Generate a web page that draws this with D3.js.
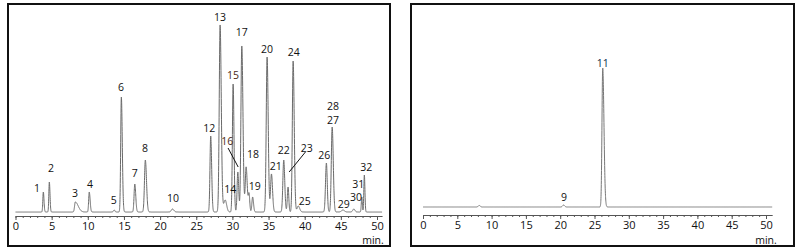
<!DOCTYPE html>
<html>
<head>
<meta charset="utf-8">
<script src="https://cdn.jsdelivr.net/npm/d3@7"></script>
<style>
  body { margin: 0; background: #fff; }
  text { font-family: "Open Sans", "Noto Sans", sans-serif; }
</style>
</head>
<body>
<div id="chart"></div>
<script>
// chromatogram peaks, left panel (retention time in min, height, left/right width)
var leftPeakTimes   = [3.85, 4.68, 8.27, 10.2, 13.65, 14.64, 16.5, 17.96, 21.7, 27.0, 28.3, 29.0, 30.1, 30.75, 31.3, 31.9, 32.3, 32.8, 34.8, 35.4, 37.1, 37.7, 38.4, 39.1, 43.0, 43.8, 45.3, 46.8, 47.9, 48.25];
var leftPeakHeights = [20, 30, 10, 20, 2, 115, 28, 52, 3, 76, 187, 12, 128, 40, 166, 45, 18, 15, 155, 38, 52, 25, 151, 6, 49, 85, 2, 3, 15, 37];
var leftPeakWidthL  = [.07, .07, .10, .08, .10, .09, .10, .12, .15, .10, .12, .20, .10, .10, .12, .12, .10, .10, .12, .12, .12, .10, .11, .15, .12, .12, .20, .15, .07, .07];
var leftPeakWidthR  = [.09, .09, .40, .12, .10, .13, .13, .16, .20, .13, .16, .20, .12, .12, .16, .15, .10, .12, .15, .15, .14, .10, .15, .20, .12, .15, .20, .15, .07, .08];

// right panel peaks
var rightPeakTimes   = [8.2, 20.5, 26.2];
var rightPeakHeights = [1.5, 2, 139];
var rightPeakWidthL  = [.15, .15, .11];
var rightPeakWidthR  = [.15, .15, .18];

// peak labels (time, height where the label sits)
var leftLabels  = ["1", "2", "3", "4", "5", "6", "7", "8", "10", "12", "13", "14", "15", "16", "17", "18", "19", "20", "21", "22", "23", "24", "25", "26", "27", "28", "29", "30", "31", "32"];
var leftLabelT  = [2.97, 4.91, 8.23, 10.3, 13.6, 14.6, 16.5, 17.9, 21.8, 26.8, 28.3, 29.7, 30.1, 29.3, 31.3, 32.85, 33.1, 34.8, 36.0, 37.1, 40.3, 38.5, 40.0, 42.7, 43.9, 43.9, 45.4, 47.1, 47.4, 48.5];
var leftLabelH  = [24, 44, 19, 28, 12, 125, 39, 64, 14, 84, 195, 23, 137, 71, 180, 58, 26, 163, 46, 62, 64, 160, 11, 57, 92, 106, 8, 15, 28, 45];
var rightLabels = ["9", "11"];
var rightLabelT = [20.55, 26.2];
var rightLabelH = [10, 144];

// leader lines for labels 16 and 23: [t1, h1, t2, h2]
var leaders = [[29.4, 64, 30.8, 45], [40.1, 60, 37.85, 40]];

var tickLabels = [0, 5, 10, 15, 20, 25, 30, 35, 40, 45, 50];
var minorTicks = d3.range(0, 51, 1);

var svg = d3.select("#chart").append("svg")
  .attr("width", 800)
  .attr("height", 251);

function trace(times, heights, wl, wr, tMax) {
  var pts = [];
  for (var t = 0; t <= tMax + 1e-9; t += 0.01) {
    var y = 0;
    for (var i = 0; i < times.length; i++) {
      var s = t < times[i] ? wl[i] : wr[i];
      var d = (t - times[i]) / s;
      y += heights[i] * Math.exp(-0.5 * d * d);
    }
    pts.push([t, y]);
  }
  return pts;
}

function panel(opt) {
  var g = svg.append("g");

  g.append("rect")
    .attr("x", opt.box[0]).attr("y", opt.box[1])
    .attr("width", opt.box[2]).attr("height", opt.box[3])
    .attr("fill", "none").attr("stroke", "#111").attr("stroke-width", 2);

  var x = d3.scaleLinear().domain([0, 50]).range(opt.xRange);
  var y = d3.scaleLinear().domain([0, 200]).range([opt.base, opt.base - 200]);

  var line = d3.line().x(d => x(d[0])).y(d => y(d[1]));
  g.append("path")
    .datum(trace(opt.times, opt.heights, opt.wl, opt.wr, opt.tMax))
    .attr("fill", "none")
    .attr("stroke", opt.lineColor)
    .attr("stroke-width", 1)
    .attr("d", line);

  // axes
  var xAxis = d3.scaleLinear().domain([0, opt.tMax]).range([x(0), x(opt.tMax)]);
  var minor = g.append("g")
    .attr("transform", `translate(0, ${opt.axisY})`)
    .call(d3.axisBottom(xAxis).tickValues(minorTicks).tickSize(2).tickSizeOuter(0).tickFormat(""));
  minor.select(".domain").attr("stroke", "#555");
  minor.selectAll(".tick line").attr("stroke", "#555");

  var major = g.append("g")
    .attr("transform", `translate(0, ${opt.axisY})`)
    .call(d3.axisBottom(xAxis).tickValues(tickLabels).tickSize(4).tickSizeOuter(0).tickPadding(2));
  major.select(".domain").remove();
  major.selectAll(".tick line").attr("stroke", "#555");
  major.selectAll(".tick text")
    .attr("font-size", "11px")
    .attr("fill", "#111")
    .style("font-family", "'Open Sans', 'Noto Sans', sans-serif");

  g.append("text")
    .attr("x", x(50) + opt.minDx)
    .attr("y", 244)
    .attr("text-anchor", "middle")
    .attr("font-size", "10.5px")
    .attr("fill", "#111")
    .text("min.");

  g.selectAll(".plabel")
    .data(opt.labels)
    .enter().append("text")
    .attr("class", "plabel")
    .attr("x", (d, i) => x(opt.labelT[i]))
    .attr("y", (d, i) => y(opt.labelH[i]))
    .attr("dy", "0.35em")
    .attr("text-anchor", "middle")
    .attr("font-size", "10.5px")
    .attr("fill", d => opt.labelColor(d))
    .text(d => d);

  return {g: g, x: x, y: y};
}

var left = panel({
  box: [8, 4, 382, 242],
  xRange: [15.5, 377],
  base: 212,
  axisY: 216,
  tMax: 50.7,
  minDx: -4,
  times: leftPeakTimes, heights: leftPeakHeights, wl: leftPeakWidthL, wr: leftPeakWidthR,
  lineColor: "#6a6a6a",
  labels: leftLabels, labelT: leftLabelT, labelH: leftLabelH,
  labelColor: d => (d === "15" || d === "16") ? "#4a2a14" : "#111"
});

left.g.selectAll(".leader")
  .data(leaders)
  .enter().append("line")
  .attr("x1", d => left.x(d[0])).attr("y1", d => left.y(d[1]))
  .attr("x2", d => left.x(d[2])).attr("y2", d => left.y(d[3]))
  .attr("stroke", "#111").attr("stroke-width", 1);

panel({
  box: [411, 4, 383, 242],
  xRange: [423, 766],
  base: 207,
  axisY: 215,
  tMax: 50.9,
  minDx: 0,
  times: rightPeakTimes, heights: rightPeakHeights, wl: rightPeakWidthL, wr: rightPeakWidthR,
  lineColor: "#777",
  labels: rightLabels, labelT: rightLabelT, labelH: rightLabelH,
  labelColor: d => d === "11" ? "#0b2a4a" : "#111"
});
</script>
</body>
</html>
